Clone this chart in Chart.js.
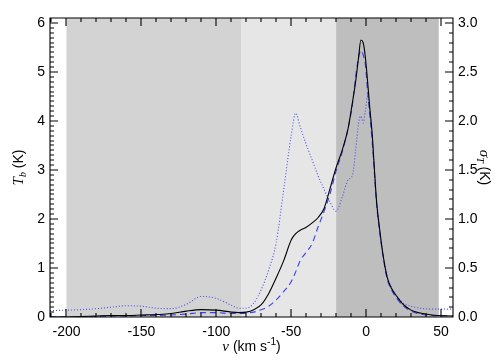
<!DOCTYPE html>
<html>
<head>
<meta charset="utf-8">
<script src="https://cdn.jsdelivr.net/npm/chart.js@4.4.1/dist/chart.umd.min.js"></script>
<style>
  html, body { margin: 0; padding: 0; background: #fff; }
  #wrap { width: 504px; height: 360px; }
</style>
</head>
<body>
<div id="wrap"><canvas id="chart" width="504" height="360"></canvas></div>
<script>
// velocity grid, km/s
const vel = [-211, -200, -190, -180, -170, -160, -150, -140, -130, -120, -110, -100, -90, -85, -80, -75,
    -70, -65, -60, -55, -50, -47, -44, -40, -36, -32, -28, -24, -20, -16, -12, -9, -7, -5, -3.5, -2,
    -0.5, 1, 2.5, 4, 5.5, 7, 9, 11, 14, 17, 21, 25, 30, 36, 44, 58];

// Tb (K), solid black
const tbSolid = [0.00, 0.00, 0.01, 0.02, 0.03, 0.03, 0.04, 0.05, 0.07, 0.12, 0.15, 0.14, 0.10, 0.09, 0.10, 0.15,
    0.25, 0.48, 0.80, 1.15, 1.57, 1.70, 1.77, 1.83, 1.92, 2.03, 2.22, 2.63, 3.05, 3.40, 3.85, 4.40, 4.80, 5.30, 5.65, 5.60,
    5.30, 4.80, 4.25, 3.76, 3.04, 2.35, 1.80, 1.33, 0.82, 0.58, 0.40, 0.25, 0.14, 0.08, 0.04, 0.02];

// Tb (K), dashed blue
const tbDashed = [0.00, 0.00, 0.00, 0.01, 0.02, 0.02, 0.03, 0.03, 0.04, 0.06, 0.09, 0.09, 0.07, 0.07, 0.08, 0.10,
    0.15, 0.22, 0.35, 0.52, 0.72, 0.92, 1.15, 1.32, 1.50, 1.84, 2.16, 2.52, 2.98, 3.36, 3.85, 4.37, 4.90, 5.30, 5.44, 5.35,
    5.15, 4.60, 4.10, 3.60, 2.95, 2.30, 1.75, 1.30, 0.78, 0.55, 0.36, 0.22, 0.12, 0.06, 0.03, 0.02];

// sigma_T (K), dotted blue, right axis
const sigmaT = [0.065, 0.07, 0.075, 0.085, 0.10, 0.115, 0.11, 0.09, 0.085, 0.13, 0.21, 0.19, 0.12, 0.09, 0.09, 0.14,
    0.28, 0.48, 0.76, 1.30, 1.85, 2.08, 1.94, 1.76, 1.60, 1.44, 1.30, 1.17, 1.08, 1.22, 1.40, 1.45, 1.70, 1.98, 2.05, 1.98,
    2.10, 2.25, 2.10, 1.85, 1.50, 1.17, 0.88, 0.66, 0.42, 0.30, 0.20, 0.14, 0.11, 0.09, 0.08, 0.08];

// grey velocity bands behind the spectra
const bandStart = [-200, -83.5, -20];
const bandEnd = [-83.5, -20, 48.5];
const bandGrey = ['#d3d3d3', '#e6e6e6', '#bebebe'];

const FONT = '"Liberation Sans", Arial, Helvetica, sans-serif';
const SERIF = '"Liberation Serif", "DejaVu Serif", serif';

function pts(arr) {
    return vel.map((v, i) => ({ x: v, y: arr[i] }));
}

// bands, drawn under the lines
const bands = {
    id: 'bands',
    beforeDatasetsDraw(chart) {
        const ctx = chart.ctx, a = chart.chartArea, x = chart.scales.x;
        ctx.save();
        ctx.beginPath();
        ctx.rect(a.left, a.top, a.right - a.left, a.bottom - a.top);
        ctx.clip();
        for (let i = 0; i < bandStart.length; i++) {
            const x0 = x.getPixelForValue(bandStart[i]);
            const x1 = x.getPixelForValue(bandEnd[i]);
            ctx.fillStyle = bandGrey[i];
            ctx.fillRect(x0, a.top, x1 - x0, a.bottom - a.top);
        }
        ctx.restore();
    }
};

// inward ticks, IDL style
function tickLoop(scale, minor, every, fn) {
    const i0 = Math.ceil(scale.min / minor - 1e-6), i1 = Math.floor(scale.max / minor + 1e-6);
    for (let i = i0; i <= i1; i++) {
        fn(scale.getPixelForValue(i * minor), i % every === 0);
    }
}

function richText(ctx, parts) {
    let w = 0;
    parts.forEach(p => { ctx.font = p.font; p.w = ctx.measureText(p.t).width; w += p.w; });
    let x = -w / 2;
    parts.forEach(p => {
        ctx.font = p.font;
        ctx.fillText(p.t, x, p.dy || 0);
        x += p.w;
    });
}

const frame = {
    id: 'frame',
    afterDraw(chart) {
        const ctx = chart.ctx, a = chart.chartArea;
        const L = Math.round(a.left), R = Math.round(a.right);
        const T = Math.round(a.top), B = Math.round(a.bottom);
        ctx.save();
        ctx.setLineDash([]);
        ctx.strokeStyle = '#000';
        ctx.lineWidth = 1.1;
        ctx.beginPath();
        ctx.moveTo(L, T); ctx.lineTo(R, T); ctx.lineTo(R, B); ctx.lineTo(L, B); ctx.closePath();
        tickLoop(chart.scales.x, 10, 5, (px, major) => {
            const p = Math.round(px), len = major ? 8 : 4;
            ctx.moveTo(p, B); ctx.lineTo(p, B - len);
            ctx.moveTo(p, T); ctx.lineTo(p, T + len);
        });
        tickLoop(chart.scales.y, 0.1, 10, (py, major) => {
            const p = Math.round(py), len = major ? 8 : 4;
            ctx.moveTo(L, p); ctx.lineTo(L + len, p);
        });
        tickLoop(chart.scales.y2, 0.1, 5, (py, major) => {
            const p = Math.round(py), len = major ? 8 : 4;
            ctx.moveTo(R, p); ctx.lineTo(R - len, p);
        });
        ctx.stroke();

        // axis titles
        ctx.fillStyle = '#000';
        ctx.textBaseline = 'middle';
        ctx.textAlign = 'left';
        const mid = (a.top + a.bottom) / 2;

        ctx.save();
        ctx.translate(19, mid);
        ctx.rotate(-Math.PI / 2);
        richText(ctx, [
            { t: 'T', font: 'italic 15px ' + SERIF },
            { t: 'b', font: 'italic 10px ' + SERIF, dy: 4 },
            { t: ' (K)', font: '14px ' + FONT }
        ]);
        ctx.restore();

        ctx.save();
        ctx.translate(484, mid);
        ctx.rotate(Math.PI / 2);
        richText(ctx, [
            { t: 'σ', font: 'italic 15px ' + SERIF },
            { t: 'T', font: 'italic 10px ' + SERIF, dy: 4 },
            { t: ' (K)', font: '14px ' + FONT }
        ]);
        ctx.restore();

        ctx.save();
        ctx.translate((a.left + a.right) / 2, 347);
        richText(ctx, [
            { t: 'v', font: 'italic 15px ' + SERIF },
            { t: ' (km s', font: '14px ' + FONT },
            { t: '-1', font: '10px ' + FONT, dy: -5 },
            { t: ')', font: '14px ' + FONT }
        ]);
        ctx.restore();
        ctx.restore();
    }
};

const blue = '#3c3cf0';
const noGrid = { display: false, drawTicks: false };

const chart = new Chart(document.getElementById('chart').getContext('2d'), {
    type: 'line',
    data: {
        datasets: [
            { data: pts(tbSolid), borderColor: '#000', borderWidth: 1.1, yAxisID: 'y' },
            { data: pts(tbDashed), borderColor: blue, borderWidth: 1.1, borderDash: [6, 4], yAxisID: 'y' },
            { data: pts(sigmaT), borderColor: '#4a4af5', borderWidth: 1.1, borderDash: [1, 2], yAxisID: 'y2' }
        ]
    },
    options: {
        responsive: false,
        animation: false,
        devicePixelRatio: 1,
        layout: { padding: { top: 18, left: 0, right: 0, bottom: 0 } },
        elements: {
            point: { radius: 0 },
            line: { cubicInterpolationMode: 'monotone', fill: false }
        },
        plugins: { legend: { display: false }, tooltip: { enabled: false } },
        scales: {
            x: {
                type: 'linear', min: -211, max: 58,
                grid: noGrid, border: { display: false },
                afterFit: s => { s.height = 43; },
                ticks: { stepSize: 50, includeBounds: false, padding: 7, color: '#000',
                    font: { family: FONT, size: 14 } }
            },
            y: {
                position: 'left', min: 0, max: 6.1,
                grid: noGrid, border: { display: false },
                afterFit: s => { s.width = 50; },
                ticks: { stepSize: 1, includeBounds: false, padding: 5, color: '#000',
                    font: { family: FONT, size: 14 } }
            },
            y2: {
                position: 'right', min: 0, max: 3.05,
                grid: noGrid, border: { display: false },
                afterFit: s => { s.width = 51; },
                ticks: { stepSize: 0.5, includeBounds: false, padding: 5, color: '#000',
                    font: { family: FONT, size: 14 }, callback: v => v.toFixed(1) }
            }
        }
    },
    plugins: [bands, frame]
});
</script>
</body>
</html>
